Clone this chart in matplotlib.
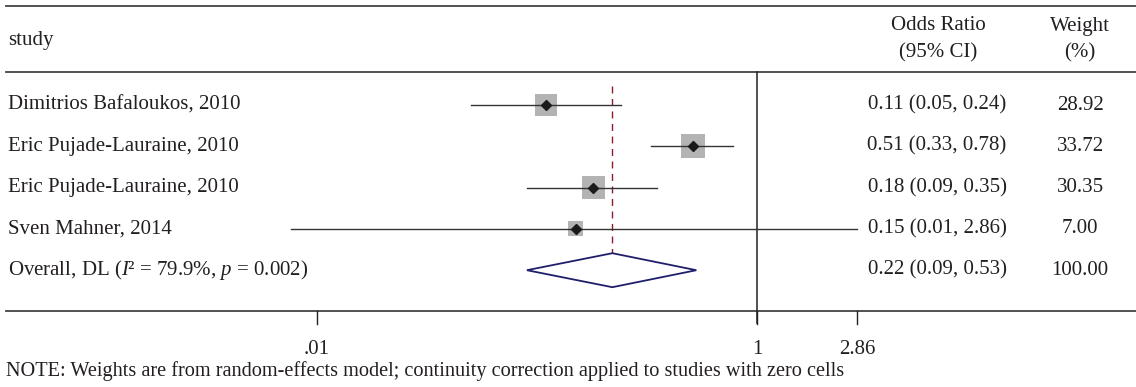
import numpy as np
import matplotlib
matplotlib.use("Agg")
import matplotlib.pyplot as plt
from matplotlib.transforms import blended_transform_factory

# ---- data ----
studies = ["Dimitrios Bafaloukos, 2010", "Eric Pujade-Lauraine, 2010",
           "Eric Pujade-Lauraine, 2010", "Sven Mahner, 2014"]
odds = [0.11, 0.51, 0.18, 0.15]
ci_low = [0.05, 0.33, 0.09, 0.0076]
ci_high = [0.24, 0.78, 0.35, 2.86]
weights = [28.92, 33.72, 30.35, 7.00]
overall_or = 0.22
overall_low = 0.09
overall_high = 0.53
overall_weight = 100.00
overall_label = "Overall, DL ($I$\u00b2 = 79.9%, $p$ = 0.002)"
tick_values = [0.01, 1, 2.86]
tick_labels = [".01", "1", "2.86"]
note = ("NOTE: Weights are from random-effects model; continuity correction "
        "applied to studies with zero cells")

plt.rcParams['font.family'] = ['Liberation Serif', 'DejaVu Serif']
plt.rcParams['mathtext.fontset'] = 'custom'
plt.rcParams['mathtext.rm'] = 'Liberation Serif'
plt.rcParams['mathtext.it'] = 'Liberation Serif:italic'

W, H = 1136, 387
fig = plt.figure(figsize=(W / 100, H / 100), dpi=100)
ax = fig.add_axes([0, 0, 1, 1])
ax.set_xscale('log')
ax.set_xlim(10 ** (-757 / 220), 10 ** ((W - 757) / 220))
ax.set_ylim(H, 0)
ax.axis('off')

tx = blended_transform_factory(ax.transAxes, ax.transData)
TXT = '#231f20'
LINE = '#444444'
FS = 15.0

def fx(px):
    return px / W

row_y = [105 + 41.3 * i for i in range(len(studies) + 1)]

# horizontal rules
for y in (6, 72, 311):
    ax.plot([fx(6), 1], [y, y], transform=tx, color=LINE, lw=1.3, zorder=1)

# header
ax.text(fx(8), 40, "study", transform=tx, ha='left', va='center', fontsize=FS, color=TXT)
ax.text(fx(938), 26, "Odds Ratio", transform=tx, ha='center', va='center', fontsize=FS, color=TXT)
ax.text(fx(938), 53, "(95% CI)", transform=tx, ha='center', va='center', fontsize=FS, color=TXT)
ax.text(fx(1080), 26, "Weight", transform=tx, ha='center', va='center', fontsize=FS, color=TXT)
ax.text(fx(1080), 53, "(%)", transform=tx, ha='center', va='center', fontsize=FS, color=TXT)

# null line at 1
ax.plot([1, 1], [72, 323], color='#222222', lw=1.1, zorder=2)
# overall dashed line
ax.plot([overall_or, overall_or], [86, 287], color='#8b1c2c', lw=1.0,
        ls=(0, (5, 4)), zorder=3)

wmax = max(weights)
for i, (s, o, lo, hi, w) in enumerate(zip(studies, odds, ci_low, ci_high, weights)):
    y = row_y[i]
    ax.plot([lo, hi], [y, y], color='#333333', lw=1.0, zorder=4)
    side = max(24 * np.sqrt(w / wmax), 15)
    ax.scatter([o], [y], marker='s', s=(side * 0.72) ** 2, color='#b3b3b3',
               edgecolors='none', zorder=3)
    ax.plot([o], [y], marker='D', ms=5.2, color='#1a1a1a', zorder=5)
    ax.text(fx(8), y, s, transform=tx, ha='left', va='center', fontsize=FS, color=TXT)
    ax.text(fx(937), y, f"{o:.2f} ({lo:.2f}, {hi:.2f})", transform=tx,
            ha='center', va='center', fontsize=FS, color=TXT)
    ax.text(fx(1080), y, f"{w:.2f}", transform=tx, ha='center', va='center',
            fontsize=FS, color=TXT)

# overall
y = row_y[-1]
ax.fill([overall_low, overall_or, overall_high, overall_or],
        [y, y - 17, y, y + 17], facecolor='white', edgecolor='#1f1f6b',
        lw=1.3, zorder=4)
ax.text(fx(8), y, overall_label, transform=tx, ha='left', va='center', fontsize=FS, color=TXT)
ax.text(fx(937), y, f"{overall_or:.2f} ({overall_low:.2f}, {overall_high:.2f})",
        transform=tx, ha='center', va='center', fontsize=FS, color=TXT)
ax.text(fx(1080), y, f"{overall_weight:.2f}", transform=tx, ha='center',
        va='center', fontsize=FS, color=TXT)

# x ticks
for v, lab in zip(tick_values, tick_labels):
    ax.plot([v, v], [311, 324], color='#222222', lw=1.0, zorder=2)
    ax.text(v, 349, lab, ha='center', va='center', fontsize=FS, color=TXT)

ax.text(fx(6), 371, note, transform=tx, ha='left', va='center', fontsize=14.6, color=TXT)

fig.savefig("out.png", dpi=100)
